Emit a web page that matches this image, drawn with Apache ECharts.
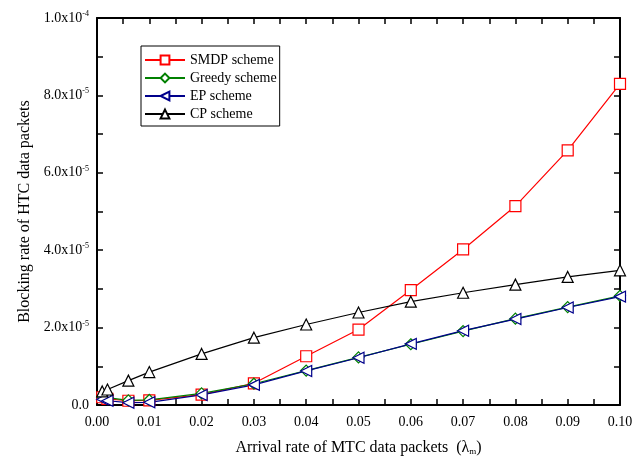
<!DOCTYPE html>
<html>
<head>
<meta charset="utf-8">
<script src="https://cdn.jsdelivr.net/npm/echarts@6/dist/echarts.min.js"></script>
<style>
  html, body { margin: 0; padding: 0; background: #fff; }
  #chart { width: 644px; height: 464px; }
</style>
</head>
<body>
<div id="chart"></div>
<script>
// arrival rate of MTC packets (x axis)
const lambdaM = [0.001, 0.002, 0.006, 0.01, 0.02, 0.03, 0.04, 0.05, 0.06, 0.07, 0.08, 0.09, 0.1];

// blocking rate, in units of 1e-6
const smdp   = [2.0, 1.6, 1.1, 1.2, 2.7, 5.6, 12.6, 19.5, 29.7, 40.2, 51.4, 65.8, 83.0];
const greedy = [2.2, 1.9, 1.2, 1.3, 3.0, 5.5, 8.9, 12.3, 15.7, 19.1, 22.3, 25.3, 28.2];
const ep     = [1.5, 1.1, 0.6, 0.7, 2.6, 5.2, 8.8, 12.2, 15.8, 19.2, 22.2, 25.2, 28.0];
const cp     = [3.5, 4.0, 6.3, 8.5, 13.2, 17.4, 20.8, 23.9, 26.7, 29.0, 31.1, 33.1, 34.8];

const seriesNames = ['SMDP scheme', 'Greedy scheme', 'EP scheme', 'CP scheme'];

const FONT = 'Liberation Serif';

function pairs(ys) {
  return lambdaM.map((x, i) => [x, ys[i]]);
}

// y label like 2.0x10^-5 (values are given in 1e-6 units)
function yLabel(v) {
  if (v === 0) return '0.0';
  const real = v * 1e-6;
  const exp = Math.floor(Math.log10(real) + 1e-9);
  const mant = real / Math.pow(10, exp);
  return mant.toFixed(1) + 'x10{sup|' + exp + '}';
}

function makeSeries(name, data, color, symbol, rotate) {
  return {
    name: name,
    type: 'line',
    data: pairs(data),
    symbol: symbol,
    symbolSize: 11,
    symbolRotate: rotate || 0,
    showAllSymbol: true,
    lineStyle: { color: color, width: 1.2 },
    itemStyle: { color: '#fff', borderColor: color, borderWidth: 1.2 },
    emphasis: { disabled: true }
  };
}

const chart = echarts.init(document.getElementById('chart'), null, { renderer: 'canvas' });

const axisCommon = {
  axisLine: { show: true, onZero: false, lineStyle: { color: '#000', width: 2 } },
  axisTick: { show: true, inside: true, length: 6, lineStyle: { color: '#000', width: 1.5 } },
  minorTick: { show: true, splitNumber: 2, length: 6, lineStyle: { color: '#000', width: 1.5 } },
  splitLine: { show: false }
};

chart.setOption({
  animation: false,
  backgroundColor: '#fff',
  grid: { left: 97, right: 24, top: 18, bottom: 59 },
  legend: {
    data: seriesNames,
    orient: 'vertical',
    left: 141,
    top: 46,
    itemWidth: 40,
    itemHeight: 11,
    itemGap: 4,
    padding: [7, 3, 5, 3],
    borderColor: '#000',
    borderWidth: 1,
    textStyle: { fontFamily: FONT, fontSize: 14, color: '#000' }
  },
  xAxis: [
    Object.assign({
      type: 'value',
      min: 0,
      max: 0.1,
      interval: 0.01,
      name: 'Arrival rate of MTC data packets  (λ{sub|m})',
      nameLocation: 'middle',
      nameGap: 34,
      nameTextStyle: {
        fontFamily: FONT, fontSize: 16, color: '#000',
        rich: { sub: { fontFamily: FONT, fontSize: 9, verticalAlign: 'bottom', padding: [8, 0, 0, 0] } }
      },
      axisLabel: {
        fontFamily: FONT, fontSize: 14, color: '#000', margin: 10,
        formatter: v => v.toFixed(2)
      }
    }, axisCommon),
    Object.assign({
      type: 'value', position: 'top', min: 0, max: 0.1, interval: 0.01,
      axisLabel: { show: false }
    }, axisCommon)
  ],
  yAxis: [
    Object.assign({
      type: 'value',
      min: 0,
      max: 100,
      interval: 20,
      name: 'Blocking rate of HTC data packets',
      nameLocation: 'middle',
      nameGap: 64,
      nameTextStyle: { fontFamily: FONT, fontSize: 16, color: '#000' },
      axisLabel: {
        fontFamily: FONT, fontSize: 14, color: '#000', margin: 8,
        formatter: yLabel,
        rich: { sup: { fontFamily: FONT, fontSize: 8, verticalAlign: 'top', padding: [0, 0, 8, 0] } }
      }
    }, axisCommon),
    Object.assign({
      type: 'value', position: 'right', min: 0, max: 100, interval: 20,
      axisLabel: { show: false }
    }, axisCommon)
  ],
  series: [
    makeSeries(seriesNames[0], smdp, '#ff0000', 'rect'),
    makeSeries(seriesNames[1], greedy, '#008000', 'diamond'),
    makeSeries(seriesNames[2], ep, '#00008b', 'triangle', 90),
    makeSeries(seriesNames[3], cp, '#000000', 'triangle')
  ]
});
</script>
</body>
</html>
